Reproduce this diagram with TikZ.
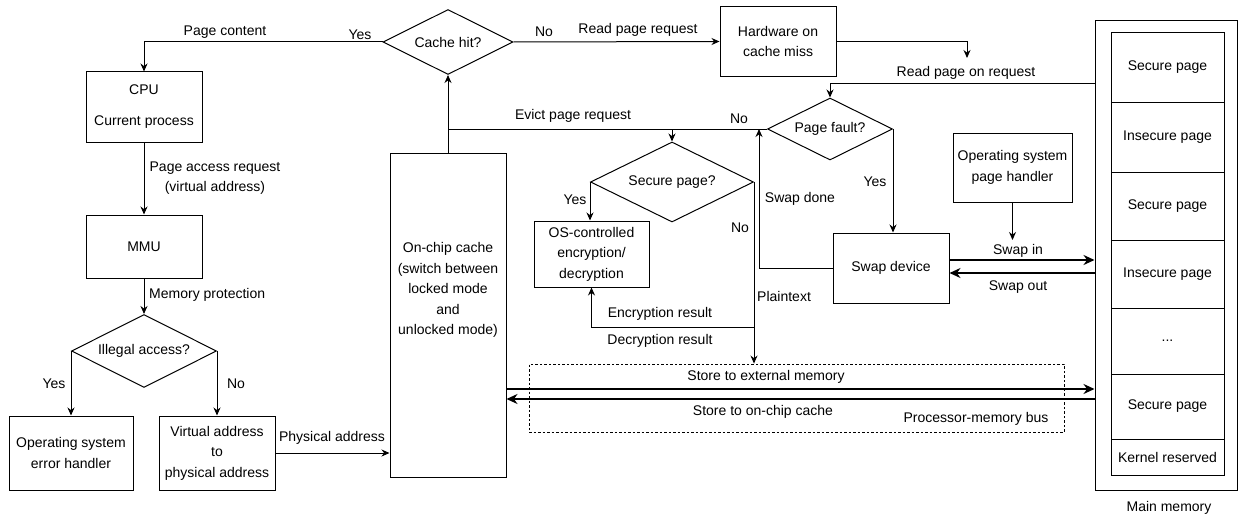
\documentclass[tikz,border=0pt]{standalone}
\usepackage{fontspec}
\setmainfont{Liberation Sans}
\usepackage{tikz}
\usetikzlibrary{shapes.geometric, arrows.meta, positioning}
\tikzstyle{unit} = [
rectangle,
draw=black,
line width=1pt,
inner sep=0pt,
text centered,
align=center
]
\tikzstyle{decision} = [
diamond,
aspect=2,
draw=black,
line width=1pt,
inner sep=0pt,
text centered
]
\tikzstyle{cell} = [
unit,
outer sep=0pt,
minimum width=113pt
]
\tikzstyle{tag} = [
inner sep=0pt,
align=center
]
\tikzstyle{arrow} = [
line width=1pt,
-{Stealth[length=8pt,width=7pt]},
draw=black
]
\tikzstyle{line} = [
line width=1pt,
draw=black
]
\tikzstyle{busarrow} = [
line width=2.2pt,
-{Stealth[length=11pt,width=10pt]},
draw=black
]
\tikzstyle{busbox} = [
draw=black,
line width=0.9pt,
dash pattern=on 2.5pt off 2pt
]

\begin{document}
\begin{tikzpicture}[x=1pt, y=-1pt, font=\fontsize{14}{20.5}\selectfont]
			
			\useasboundingbox (0,0) rectangle (1239,519);
			
			% processor side
			\node (cpu) [unit, minimum width=116pt, minimum height=70pt] at (144,107) {CPU\\[10.5pt]Current process};
			
			\node (mmu) [unit, minimum width=116pt, minimum height=63pt] at (144,246.5) {MMU};
			
			\node (ill) [decision, minimum width=145pt, minimum height=73pt] at (144,351) {Illegal access?};
			
			\node (oserr) [unit, minimum width=124pt, minimum height=74pt] at (71,453) {Operating system\\error handler};
			
			\node (virt) [unit, minimum width=116pt, minimum height=74pt] at (217,453) {Virtual address\\to\\physical address};
			
			\node (cache) [unit, minimum width=116pt, minimum height=324pt] at (448,315) {};
			\node (cachetxt) [tag] at (448,290) {On-chip cache\\(switch between\\locked mode\\and\\unlocked mode)};
			
			\node (hit) [decision, minimum width=130pt, minimum height=65pt] at (448,42) {Cache hit?};
			
			\node (hw) [unit, minimum width=116pt, minimum height=69pt] at (778,41.5) {Hardware on\\cache miss};
			
			\node (pf) [decision, minimum width=125pt, minimum height=62pt] at (830,129) {Page fault?};
			
			\node (sec) [decision, minimum width=163pt, minimum height=80pt] at (672,182) {Secure page?};
			
			\node (osenc) [unit, minimum width=115pt, minimum height=66pt] at (591.5,254) {OS-controlled\\encryption/\\decryption};
			
			\node (swap) [unit, minimum width=116pt, minimum height=70pt] at (891,268) {Swap device};
			
			\node (handler) [unit, minimum width=119pt, minimum height=69pt] at (1012.5,167.5) {Operating system\\page handler};
			
			\node (bus) [busbox, minimum width=535pt, minimum height=68pt] at (796.5,398) {};
			
			% main memory
			\node (mem) [unit, minimum width=142pt, minimum height=469pt] at (1166,255.5) {};
			
			\node (pg1) [cell, minimum height=69pt] at (1167.5,67.5) {Secure page};
			\node (pg2) [cell, minimum height=70pt, below=0pt of pg1] {Insecure page};
			\node (pg3) [cell, minimum height=68pt, below=0pt of pg2] {Secure page};
			\node (pg4) [cell, minimum height=68pt, below=0pt of pg3] {Insecure page};
			\node (pg5) [cell, minimum height=66pt, below=0pt of pg4] {...};
			\node (pg6) [cell, minimum height=65pt, below=0pt of pg5] {Secure page};
			\node (pg7) [cell, minimum height=36pt, below=0pt of pg6] {Kernel reserved};
			
			\node (memtxt) [tag] at (1169,508) {Main memory};
			
			\coordinate (rdend) at (967,58);
			\coordinate (hndend) at (1012.5,240);
			
			% connectors
			\draw [arrow] (hit.west) -| (cpu.north);
			\draw [arrow] (hit.east) -- (hw.west);
			\draw [arrow] (hw.east) -| (rdend);
			\draw [arrow] (mem.west |- 0,83) -| (pf.north);
			\draw [arrow] (cpu.south) -- (mmu.north);
			\draw [arrow] (mmu.south) -- (ill.north);
			\draw [arrow] (ill.west) -- (ill.west |- oserr.north);
			\draw [arrow] (ill.east) -- (ill.east |- virt.north);
			\draw [arrow] (virt.east) -- (cache.west |- virt.east);
			\draw [arrow] (cache.north) -- (hit.south);
			\draw [line] (pf.west) -- (cache.north |- pf.west);
			\draw [arrow] (sec.north |- pf.west) -- (sec.north);
			\draw [arrow] (swap.west) -| (759,0 |- pf.west);
			\draw [arrow] (pf.east) -- (pf.east |- swap.north);
			\draw [arrow] (sec.west) -- (sec.west |- osenc.north);
			\draw [arrow] (sec.east) |- (osenc.south |- 0,327) -- (osenc.south);
			\draw [arrow] (sec.east |- 0,327) -- (sec.east |- bus.north);
			\draw [arrow] (handler.south) -- (hndend);
			\draw [busarrow] (swap.east |- 0,260) -- (mem.west |- 0,260);
			\draw [busarrow] (mem.west |- 0,273) -- (swap.east |- 0,273);
			\draw [busarrow] (cache.east |- 0,389) -- (mem.west |- 0,389);
			\draw [busarrow] (mem.west |- 0,399) -- (cache.east |- 0,399);
			
			% labels
			\node (lcont) [tag] at (225,32) {Page content};
			\node (lyes1) [tag] at (360,35) {Yes};
			\node (lno1) [tag] at (544,32) {No};
			\node (lreq) [tag] at (638,30) {Read page request};
			\node (lrdon) [tag] at (966,73) {Read page on request};
			\node (lacc) [tag] at (215,178) {Page access request\\(virtual address)};
			\node (lprot) [tag, anchor=west] at (149,295) {Memory protection};
			\node (lyes2) [tag] at (54,384) {Yes};
			\node (lno2) [tag] at (236,384) {No};
			\node (lphys) [tag] at (332,438) {Physical address};
			\node (levict) [tag] at (573,116) {Evict page request};
			\node (lno3) [tag] at (739,119) {No};
			\node (ldone) [tag] at (800,199) {Swap done};
			\node (lyes3) [tag] at (875,182) {Yes};
			\node (lyes4) [tag] at (575,200) {Yes};
			\node (lno4) [tag] at (740,228) {No};
			\node (lplain) [tag, anchor=west] at (757,296) {Plaintext};
			\node (lenc) [tag] at (660,314) {Encryption result};
			\node (ldec) [tag] at (660,341) {Decryption result};
			\node (lin) [tag] at (1018,251) {Swap in};
			\node (lout) [tag] at (1018,287) {Swap out};
			\node (lext) [tag] at (766,377) {Store to external memory};
			\node (lonc) [tag] at (763,412) {Store to on-chip cache};
			\node (lbus) [tag] at (976,419) {Processor-memory bus};
			
		\end{tikzpicture}
\end{document}
